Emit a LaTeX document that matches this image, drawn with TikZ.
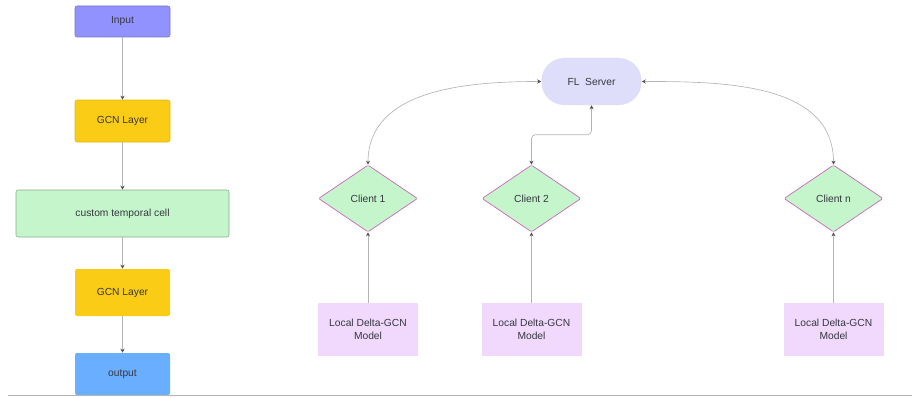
\documentclass[tikz,border=0pt]{standalone}
\usepackage{fontspec}
\setmainfont{Liberation Sans}
\usepackage{tikz}
\usepackage{xcolor}
\usetikzlibrary{shapes.geometric, arrows.meta, positioning, calc}
\definecolor{cInput}{RGB}{146,146,255}
\definecolor{cGcn}{RGB}{250,204,21}
\definecolor{cCell}{RGB}{196,245,203}
\definecolor{cOut}{RGB}{106,174,255}
\definecolor{cServer}{RGB}{222,222,250}
\definecolor{cLocal}{RGB}{240,217,252}
\definecolor{cEdge}{RGB}{205,95,190}
\definecolor{cText}{RGB}{55,55,65}
\definecolor{cLine}{RGB}{180,180,180}
\tikzset{
	layer/.style   ={rectangle, rounded corners=1.5pt, minimum width=71.25pt, align=center, text=cText, line width=0.4pt},
	server/.style  ={rectangle, rounded corners=17pt, minimum width=75pt, minimum height=35.25pt, fill=cServer, text=cText},
	client/.style  ={diamond, aspect=1.48, minimum width=74.25pt, minimum height=50.25pt, inner sep=0pt, fill=cCell, draw=cEdge, line width=0.5pt, rounded corners=1pt, text=cText},
	localm/.style  ={rectangle, minimum width=75pt, minimum height=39.75pt, fill=cLocal, align=center, text=cText},
	link/.style    ={cLine, line width=0.5pt, -{Stealth[length=3pt, width=3pt, color=black!70]}},
	dlink/.style   ={cLine, line width=0.5pt, {Stealth[length=3pt, width=3pt, color=black!70]}-{Stealth[length=3pt, width=3pt, color=black!70]}},
}
\begin{document}
\begin{tikzpicture}[x=0.75pt, y=0.75pt, font=\fontsize{7.7}{9.75}\selectfont]
	\useasboundingbox (0,0) rectangle (912,397);
	% model pipeline (left)
	\node[layer, minimum height=23.25pt, fill=cInput, draw=cInput!80!black] (inp) at (122.5,375.5) {Input};
	\node[layer, minimum height=31.5pt, fill=cGcn, draw=cGcn!90!black] (gcnA) at (122.5,276) {GCN Layer};
	\node[layer, minimum width=159.75pt, minimum height=35.25pt, fill=cCell, draw=cCell!70!black] (cell) at (122.5,183.5) {custom temporal cell};
	\node[layer, minimum height=35.25pt, fill=cGcn] (gcnB) at (122.5,104.5) {GCN Layer};
	\node[layer, minimum height=31.5pt, fill=cOut] (outp) at (122.5,23) {output};
	\draw[link] (inp) -- (gcnA);
	\draw[link] (gcnA) -- (cell);
	\draw[link] (cell) -- (gcnB);
	\draw[link] (gcnB) -- (outp);
	% federated setup (right)
	\node[server] (srv) at (591.5,315.5) {FL\ \ Server};
	\foreach \k/\x/\lbl in {1/368/Client 1, 2/531.5/Client 2, n/833.5/Client n} {
		\node[client] (c\k) at (\x,198.5) {\lbl};
		\node[localm] (loc\k) at (\x,67.5) {Local Delta-GCN\\Model};
		\draw[link] (loc\k) -- (c\k);
	}
	\draw[dlink] (c1.north) to[out=90, in=180] (srv.west);
	\draw[dlink, rounded corners=3pt] (c2.north) -- ++(0,30) -| (srv.south);
	\draw[dlink] (srv.east) to[out=0, in=90] (cn.north);
	\draw[cLine, line width=0.6pt] (8,2) -- (912,2);
\end{tikzpicture}
\end{document}
